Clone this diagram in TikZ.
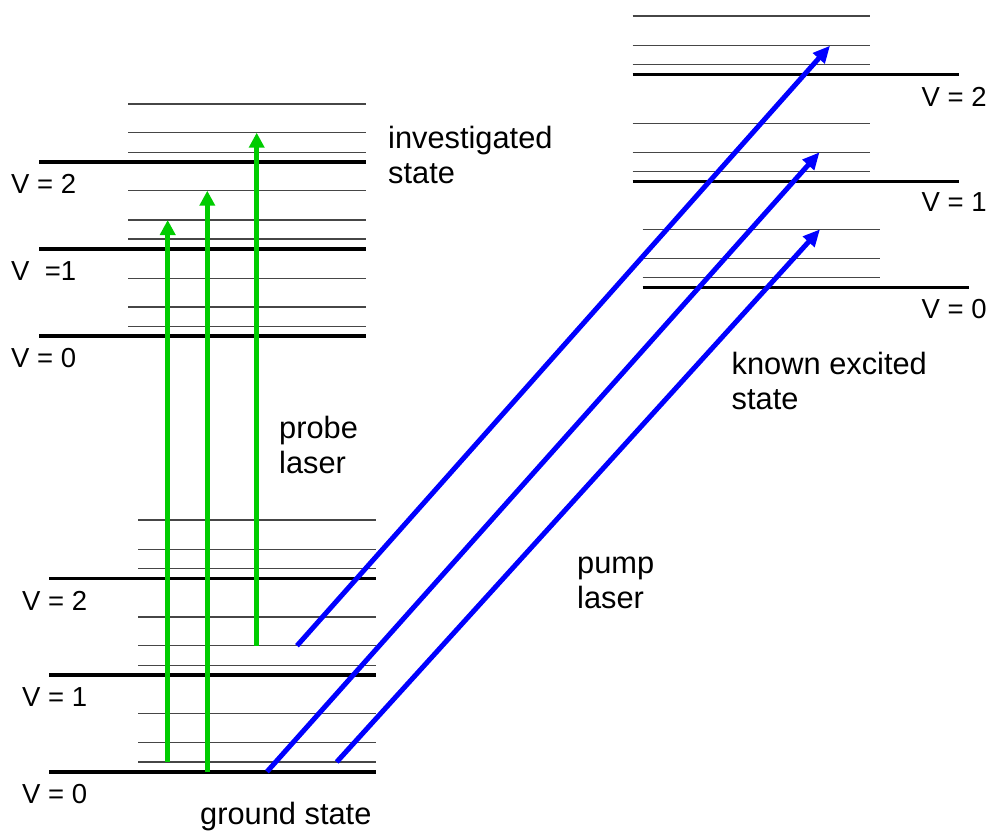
\documentclass[tikz,border=0pt]{standalone}
\usepackage{fontspec}
\setmainfont{Liberation Sans}
\usetikzlibrary{arrows.meta}
\definecolor{probegreen}{RGB}{0,204,0}
\definecolor{pumpblue}{RGB}{0,0,255}
\definecolor{lvlgray}{RGB}{70,70,70}
\begin{document}
\begin{tikzpicture}[x=1pt,y=-1pt,
  thinlvl/.style={line width=1.4pt, draw=lvlgray},
  thicklvl/.style={line width=3.6pt, draw=black},
  probearrow/.style={line width=5pt, draw=probegreen, -{Triangle[length=15pt,width=15pt]}},
  pumparrow/.style={line width=5pt, draw=pumpblue, -{Triangle[length=17pt,width=15pt]}},
  lbl/.style={inner sep=0pt, font=\fontsize{30.8}{35}\selectfont, align=left, anchor=base west},
  vlbl/.style={inner sep=0pt, font=\fontsize{27.5}{32}\selectfont, anchor=base west}
]
\useasboundingbox (0,0) rectangle (988,831);

% ---------- investigated state (upper left) ----------
\foreach \y in {104,132.7,152.3,190.7,220,239,278.3,307,326.3}
  \draw[thinlvl] (128,\y) -- (366,\y);
\foreach \y in {161.7,249,336}
  \draw[thicklvl] (39,\y) -- (366,\y);
\node[vlbl] (iv2) at (11,193.5) {V = 2};
\node[vlbl] (iv1) at (11,280.5) {V\ \ =1};
\node[vlbl] (iv0) at (11,367) {V = 0};

% ---------- ground state (lower left) ----------
\foreach \y in {520,549.3,568.7,617,645.7,665.3,713.3,742.7,762}
  \draw[thinlvl] (138,\y) -- (375.7,\y);
\foreach \y in {578.3,675,771.7}
  \draw[thicklvl] (49,\y) -- (375.7,\y);
\node[vlbl] (gv2) at (22,610) {V = 2};
\node[vlbl] (gv1) at (22,706.7) {V = 1};
\node[vlbl] (gv0) at (22,803.3) {V = 0};

% ---------- known excited state (upper right) ----------
\foreach \y in {16,45.7,64.7,123.3,152.3,171.7}
  \draw[thinlvl] (632.7,\y) -- (869.7,\y);
\foreach \y in {229.3,258.3,277.3}
  \draw[thinlvl] (642.7,\y) -- (879.7,\y);
\foreach \y in {74.3,181.3}
  \draw[thicklvl] (632.7,\y) -- (959,\y);
\draw[thicklvl] (642.7,287.3) -- (968.7,287.3);
\node[vlbl] (kv2) at (921.5,106) {V = 2};
\node[vlbl] (kv1) at (921.5,211.7) {V = 1};
\node[vlbl] (kv0) at (921.5,318.5) {V = 0};

% ---------- arrow end points ----------
\coordinate (g1s) at (167.7,762);
\coordinate (g1e) at (167.7,220);
\coordinate (g2s) at (207.3,771.7);
\coordinate (g2e) at (207.3,190.7);
\coordinate (g3s) at (256.7,645.7);
\coordinate (g3e) at (256.7,132.7);
\coordinate (b1s) at (297,645.7);
\coordinate (b1e) at (830,45.7);
\coordinate (b2s) at (267,771.7);
\coordinate (b2e) at (819.5,152.3);
\coordinate (b3s) at (336.7,762);
\coordinate (b3e) at (820,229.3);

% ---------- probe laser (green) ----------
\draw[probearrow] (g1s) -- (g1e);
\draw[probearrow] (g2s) -- (g2e);
\draw[probearrow] (g3s) -- (g3e);

% ---------- pump laser (blue) ----------
\draw[pumparrow] (b1s) -- (b1e);
\draw[pumparrow] (b2s) -- (b2e);
\draw[pumparrow] (b3s) -- (b3e);

% ---------- labels (anchor = baseline of last line) ----------
\node[lbl] (inv) at (388,183) {investigated\\state};
\node[lbl] (probe) at (279,473) {probe\\laser};
\node[lbl] (known) at (731.5,409) {known excited\\state};
\node[lbl] (pump) at (577,608) {pump\\laser};
\node[lbl] (ground) at (200,824) {ground state};
\end{tikzpicture}
\end{document}
